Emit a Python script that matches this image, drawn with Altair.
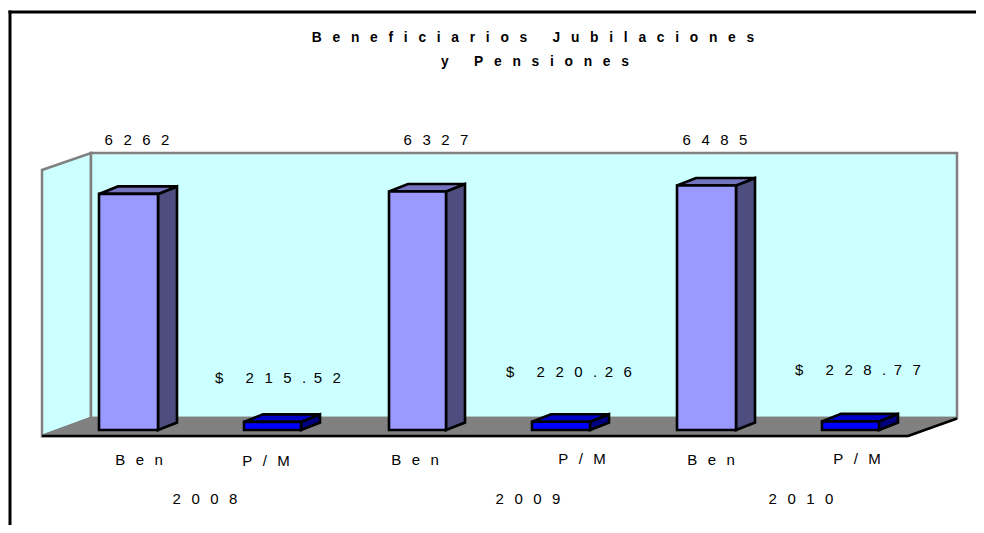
import altair as alt
import pandas as pd

# ---- values
years = ["2008", "2009", "2010"]
beneficiaries = [6262, 6327, 6485]
per_month = [215.52, 220.26, 228.77]
title_lines = ["Beneficiarios Jubilaciones", "y Pensiones"]

# ---- layout (screen pixels; the x scale maps them 1:1, y goes through the value scale)
W, H = 968, 517
PX_PER_UNIT = 0.0377
BASE_PX = 430.0
def Y(px):
    return (BASE_PX - px) / PX_PER_UNIT

bar_left = [99, 244, 389, 532, 677, 822]
bar_w = [59, 57, 57, 58, 59, 57]
DX, DY = 19, 7.5

SP = "\u00a0"
EN = "\u2002"
THIN = "\u2009"
GAP = EN + THIN          # wide tracking of the axis and value labels
TITLE_GAP = EN + SP      # wide tracking of the title
def spaced(s, gap=GAP):
    return gap.join(SP if c == " " else c for c in s)
def money(v):
    return "$" + GAP + SP + GAP[:1] + spaced(f"{v:.2f}").replace("." + GAP, "." + EN)

x_scale = alt.Scale(domain=[8, 8 + W], range=[0, W], nice=False, zero=False)
y_scale = alt.Scale(domain=[Y(8 + H), Y(8)], range=[H, 0], nice=False, zero=False)
X = lambda f="x": alt.X(f"{f}:Q", scale=x_scale, axis=None)
YY = lambda f="y": alt.Y(f"{f}:Q", scale=y_scale, axis=None)

# ---- walls and floor
def poly(rows, sid, fill, stroke):
    return [dict(id=sid, x=a, y=Y(b), y2=Y(c), fill=fill, stroke=stroke) for a, b, c in rows]

wall_rows = (
    poly([(42, 170, 436), (91, 153, 418)], "a_left", "#CCFFFF", "#808080")
    + poly([(91, 153, 418), (957, 153, 418)], "b_back", "#CCFFFF", "#808080")
    + poly([(42, 436, 436), (91, 418, 436), (908, 418, 436), (957, 418, 418)], "c_floor", "#808080", "#808080")
)
def area_layer(rows, width):
    return alt.Chart(pd.DataFrame(rows)).mark_area(strokeWidth=width, orient="vertical", opacity=1).encode(
        x=X(), y=YY(), y2=alt.Y2("y2:Q"),
        fill=alt.Fill("fill:N", scale=None),
        stroke=alt.Stroke("stroke:N", scale=None),
        detail="id:N",
    )
walls = area_layer(wall_rows, 2.5)

edge = alt.Chart(pd.DataFrame({"x": [42, 908, 957], "y": [Y(436), Y(436), Y(418.5)]})).mark_line(
    color="black", strokeWidth=2.5
).encode(x=X(), y=YY())

# ---- bars
values = []
for i, yr in enumerate(years):
    values += [beneficiaries[i], per_month[i]]
face_rows = []
front_rows = []
for i, v in enumerate(values):
    l, w = bar_left[i], bar_w[i]
    r = l + w
    is_ben = i % 2 == 0
    side_c = "#4D4D80" if is_ben else "#000080"
    top_c = "#7373BF" if is_ben else "#0000C8"
    front_c = "#9999FF" if is_ben else "#0000FF"
    t = BASE_PX - v * PX_PER_UNIT
    face_rows += poly([(r, t, BASE_PX), (r + DX, t - DY, BASE_PX - DY)], f"s{i}", side_c, "black")
    face_rows += poly([(l, t, t), (l + DX, t - DY, t), (r, t - DY, t), (r + DX, t - DY, t - DY)],
                      f"t{i}", top_c, "black")
    front_rows.append(dict(x=l, x2=r, y=v, y2=0, fill=front_c))

faces = area_layer(face_rows, 2.6)
fronts = alt.Chart(pd.DataFrame(front_rows)).mark_bar(stroke="black", strokeWidth=2.6).encode(
    x=X(), x2="x2:Q", y=YY(), y2="y2:Q", fill=alt.Fill("fill:N", scale=None)
)

# ---- frame
frame_top = alt.Chart(pd.DataFrame({"x": [8.5], "x2": [8.0 + W], "y": [Y(12)]})).mark_rule(
    color="black", strokeWidth=3).encode(x=X(), x2="x2:Q", y=YY())
frame_left = alt.Chart(pd.DataFrame({"x": [10], "y": [Y(10.5)], "y2": [Y(8 + H)]})).mark_rule(
    color="black", strokeWidth=3).encode(x=X(), y=YY(), y2="y2:Q")

# ---- texts
FONT = "Liberation Sans"
labels = [
    (spaced(str(beneficiaries[0])), 137, 140), (spaced(str(beneficiaries[1])), 436, 140),
    (spaced(str(beneficiaries[2])), 715, 140),
    (money(per_month[0]), 278, 378),
    (money(per_month[1]), 569, 372),
    (money(per_month[2]), 858, 370),
    (spaced("Ben"), 139, 460), (spaced("P/M"), 266, 461),
    (spaced("Ben"), 415, 460), (spaced("P/M"), 582, 459),
    (spaced("Ben"), 711, 460), (spaced("P/M"), 857, 459),
    (spaced(years[0]), 205, 499), (spaced(years[1]), 528, 499), (spaced(years[2]), 801, 499),
]
text_df = pd.DataFrame([dict(t=t, x=a, y=Y(b)) for t, a, b in labels])
texts = alt.Chart(text_df).mark_text(font=FONT, fontSize=15, color="black", align="center", baseline="middle").encode(
    x=X(), y=YY(), text="t:N"
)
title_df = pd.DataFrame([
    dict(t=spaced(title_lines[0], TITLE_GAP), x=533, y=Y(37.5)),
    dict(t=spaced(title_lines[1], TITLE_GAP), x=535, y=Y(61.5)),
])
title = alt.Chart(title_df).mark_text(font=FONT, fontSize=13.8, fontWeight="bold", color="black", align="center", baseline="middle").encode(
    x=X(), y=YY(), text="t:N"
)

chart = alt.layer(walls, edge, faces, fronts, frame_top, frame_left, texts, title).properties(
    width=W, height=H, padding=0, autosize=alt.AutoSizeParams(type="none"), background="white"
).configure_view(stroke=None)

chart.save("out.html", embed_options={"renderer": "svg", "actions": False})
